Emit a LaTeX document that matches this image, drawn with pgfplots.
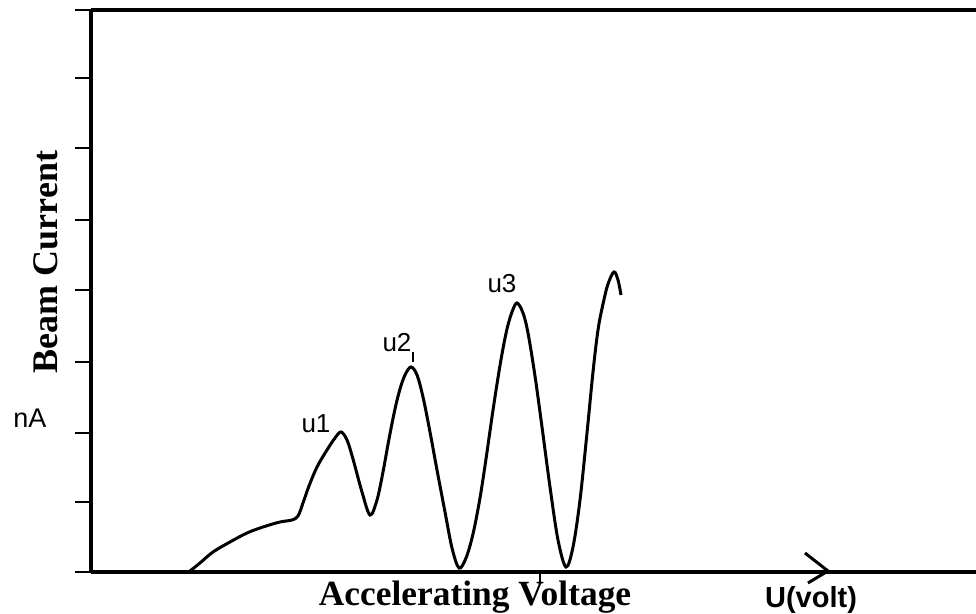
\documentclass[border=0pt]{standalone}
\usepackage{fontspec}
\setmainfont{Liberation Serif}
\newfontfamily\arial{Liberation Sans}
\usepackage{pgfplots}
\pgfplotsset{compat=1.18}
\begin{document}
\begin{tikzpicture}
\useasboundingbox (0,0) rectangle (488pt,307pt);
\begin{axis}[
  scale only axis, width=442.5pt, height=281pt,
  anchor=south west, at={(45.5pt,21pt)},
  xmin=91, xmax=976, ymin=0, ymax=562,
  separate axis lines,
  axis x line*=box, axis y line*=left,
  axis line style={line width=1.6pt, black},
  ytick={0,70,139,210,282,352,424,494,562}, yticklabels={},
  xtick=\empty,
  extra x ticks={540}, extra x tick labels={},
  extra x tick style={major tick length=5.5pt, xtick pos=bottom},
  tick align=outside, major tick length=8pt,
  ytick pos=left, xtick pos=bottom,
  tick style={line width=1.3pt, black},
  clip=false,
]
\addplot[black, line width=1.5pt, smooth, tension=0.55] coordinates {
(190,1)(200,9)(213,20)(230,30)(247,39)(263,45)(280,50)(292,52)(298,56)
(303,69)(309,86)(317,105)(327,122)(335,134)(341,140)(347,132)(353,113)
(362,80)(370,57)(377,72)(383,100)(389,133)(395,163)(400,183)(405,197)
(411,205)(417,197)(423,175)(430,140)(437,102)(445,60)(452,24)(459,4)
(466,14)(473,38)(480,74)(486,113)(492,155)(497,188)(502,218)(507,243)
(512,260)(517,269)(523,259)(528,239)(535,196)(542,145)(550,85)(558,32)
(566,5)(573,25)(580,72)(587,139)(593,200)(598,242)(603,268)(608,288)
(614,300)(618,292)(621,277)
};
\draw[line width=1.5pt] (axis cs:805,19) -- (axis cs:828,1) -- (axis cs:808,-11);
\draw[line width=0.6pt] (axis cs:413,220) -- (axis cs:413,210);
\node[rotate=90, font=\bfseries\fontsize{18}{20}\selectfont] at (axis cs:46,310) {Beam Current};
\node[font=\arial\fontsize{13.5}{15}\selectfont] at (axis cs:30,154) {nA};
\node[anchor=base, font=\bfseries\fontsize{17.7}{20}\selectfont] at (axis cs:475,-34) {Accelerating Voltage};
\node[anchor=base, font=\arial\bfseries\fontsize{14.5}{16}\selectfont] at (axis cs:811,-36) {U(volt)};
\node[anchor=base, font=\arial\fontsize{13}{15}\selectfont] at (axis cs:316,139) {u1};
\node[anchor=base, font=\arial\fontsize{13}{15}\selectfont] at (axis cs:397,220) {u2};
\node[anchor=base, font=\arial\fontsize{13}{15}\selectfont] at (axis cs:502,279) {u3};
\end{axis}
\end{tikzpicture}
\end{document}
